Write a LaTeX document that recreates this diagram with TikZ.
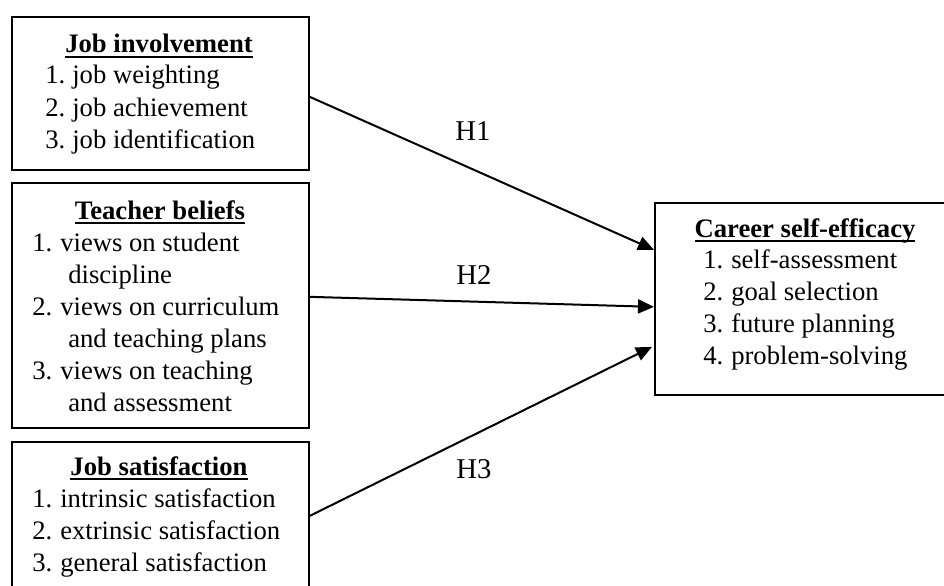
\documentclass[tikz,border=0pt]{standalone}
\usepackage{fontspec}
\setmainfont{Liberation Serif}
\usetikzlibrary{arrows.meta}
\newcommand\ulbox[1]{\setbox0\hbox{#1}\rlap{\raisebox{-3.8pt}{\rule{\wd0}{1.4pt}}}\box0}
\tikzset{
  boxnode/.style={draw, line width=1.3pt, inner sep=0pt, anchor=north west},
  titletext/.style={anchor=base, inner sep=0pt, font=\fontsize{20}{24}\selectfont\bfseries},
  itemtext/.style={anchor=base west, inner sep=0pt, font=\fontsize{20}{24}\selectfont},
  hlabel/.style={inner sep=0pt, font=\fontsize{21.5}{26}\selectfont},
  arrowline/.style={line width=1.5pt, -{Triangle[length=12pt,width=10.5pt]}}
}
\begin{document}
\begin{tikzpicture}[x=0.75pt,y=-0.75pt]
\useasboundingbox (0,0) rectangle (944,585);
\clip (0,0) rectangle (944,585);
% boxes
\node[boxnode, minimum width=222.75pt, minimum height=114.75pt] (b1) at (11,16) {};
\node[boxnode, minimum width=222.75pt, minimum height=183.75pt] (b2) at (11,182) {};
\node[boxnode, minimum width=222.75pt, minimum height=135pt] (b3) at (11,441) {};
\node[boxnode, minimum width=240pt, minimum height=144pt] (b4) at (654,202) {};
% box 1
\node[titletext] (t1) at (159,53) {\ulbox{Job involvement}};
\node[itemtext] (n11) at (45,84) {1.};
\node[itemtext] (i11) at (72,84) {job weighting};
\node[itemtext] (n12) at (45,116) {2.};
\node[itemtext] (i12) at (72,116) {job achievement};
\node[itemtext] (n13) at (45,148) {3.};
\node[itemtext] (i13) at (72,148) {job identification};
% box 2
\node[titletext] (t2) at (160,219) {\ulbox{Teacher beliefs}};
\node[itemtext] (n21) at (32,251) {1.};
\node[itemtext] (i21) at (60,251) {views on student};
\node[itemtext] (i21b) at (68,283) {discipline};
\node[itemtext] (n22) at (32,315) {2.};
\node[itemtext] (i22) at (60,315) {views on curriculum};
\node[itemtext] (i22b) at (68,347) {and teaching plans};
\node[itemtext] (n23) at (32,379) {3.};
\node[itemtext] (i23) at (60,379) {views on teaching};
\node[itemtext] (i23b) at (68,411) {and assessment};
% box 3
\node[titletext] (t3) at (159,475) {\ulbox{Job satisfaction}};
\node[itemtext] (n31) at (32,507) {1.};
\node[itemtext] (i31) at (60,507) {intrinsic satisfaction};
\node[itemtext] (n32) at (32,539) {2.};
\node[itemtext] (i32) at (60,539) {extrinsic satisfaction};
\node[itemtext] (n33) at (32,571) {3.};
\node[itemtext] (i33) at (60,571) {general satisfaction};
% box 4
\node[titletext] (t4) at (805,237) {\ulbox{Career self-efficacy}};
\node[itemtext] (n41) at (703,268) {1.};
\node[itemtext] (i41) at (731,268) {self-assessment};
\node[itemtext] (n42) at (703,300) {2.};
\node[itemtext] (i42) at (731,300) {goal selection};
\node[itemtext] (n43) at (703,332) {3.};
\node[itemtext] (i43) at (731,332) {future planning};
\node[itemtext] (n44) at (703,364) {4.};
\node[itemtext] (i44) at (731,364) {problem-solving};
% arrows
\draw[arrowline] ([yshift=-2.6pt]b1.east) -- ([yshift=36.75pt]b4.west);
\draw[arrowline] ([yshift=6.4pt]b2.east) -- ([yshift=-6pt]b4.west);
\draw[arrowline] ([yshift=12pt]b3.east) -- ([yshift=-36pt,xshift=-1.5pt]b4.west);
% labels
\node[hlabel] (h1) at (473,131) {H1};
\node[hlabel] (h2) at (474,275) {H2};
\node[hlabel] (h3) at (474,469) {H3};
\end{tikzpicture}
\end{document}
